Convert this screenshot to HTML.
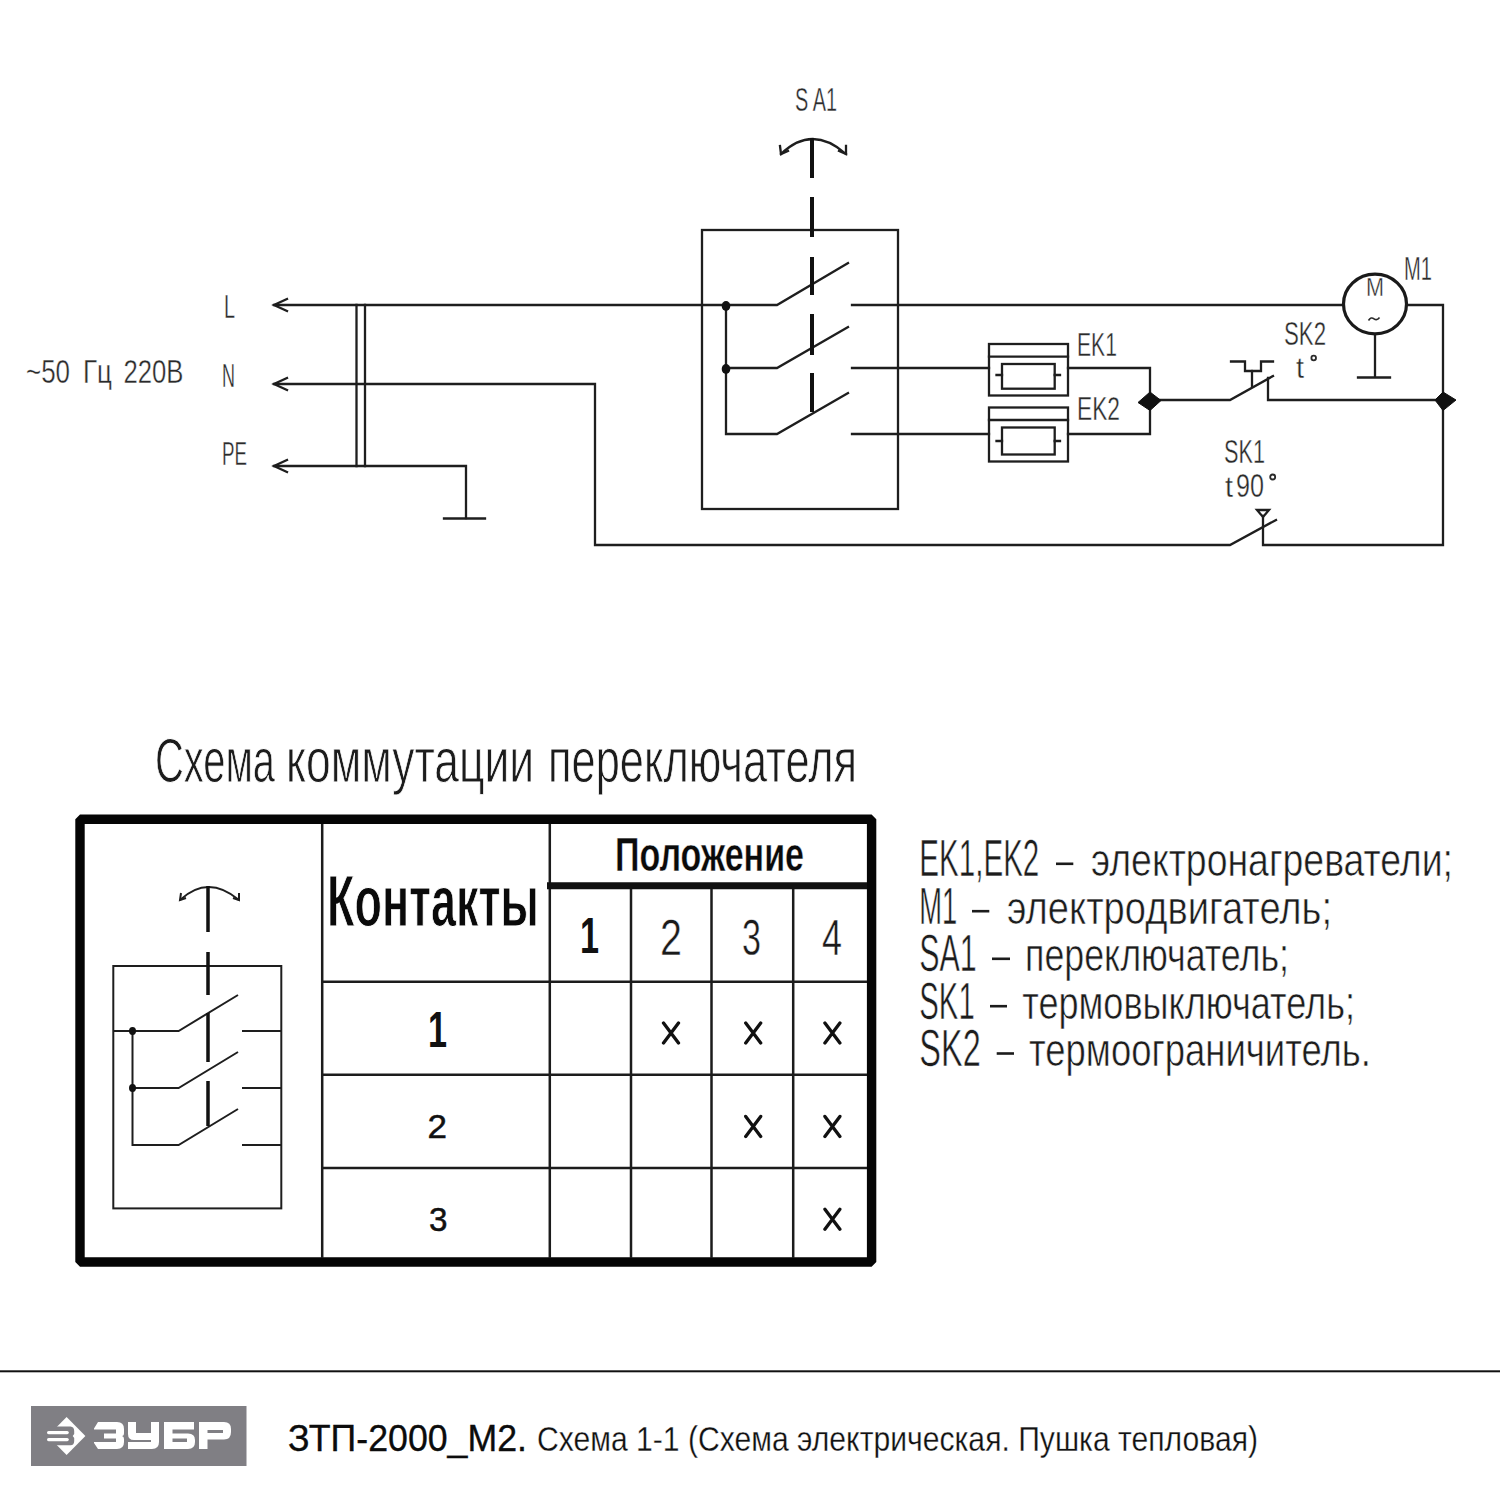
<!DOCTYPE html>
<html><head><meta charset="utf-8">
<style>
html,body{margin:0;padding:0;background:#fff;width:1500px;height:1500px;overflow:hidden}
svg{display:block}
text{font-family:"Liberation Sans",sans-serif}
.cad{fill:#2a2a2a;font-size:33px}
.thin{stroke:#fff;stroke-width:0.6px}
.thin rect{stroke:none}
</style></head><body>
<svg width="1500" height="1500" viewBox="0 0 1500 1500">
<rect width="1500" height="1500" fill="#fff"/>

<!-- ============ TOP SCHEMATIC ============ -->
<g fill="none" stroke="#1e1e1e" stroke-width="2.3" stroke-linecap="square" stroke-linejoin="miter">
  <!-- L line -->
  <path d="M274 305 H777 L848 263"/>
  <path d="M852 305 H1343"/>
  <!-- motor right to right bus -->
  <path d="M1407 305 H1443 V545 H1263 V516"/>
  <!-- N line -->
  <path d="M274 384 H595 V545 H1230 L1276 520"/>
  <!-- SK1 thermal triangle -->
  <path d="M1257 510 H1269 L1263 517 Z"/>
  <!-- PE -->
  <path d="M274 466 H466 V518"/>
  <path d="M444 518.5 H485"/>
  <!-- double verticals -->
  <path d="M356.5 305 V466 M365 305 V466"/>
  <!-- arrows -->
  <path d="M287 299 L274 305 L287 311 M287 378 L274 384 L287 390 M287 460 L274 466 L287 472"/>
  <!-- switch box -->
  <rect x="702" y="230" width="196" height="279"/>
  <path d="M726 305 V434 H777 L848 393"/>
  <path d="M726 368 H777 L848 327"/>
  <path d="M852 368 H989 M852 434 H989"/>
  <!-- EK1 -->
  <rect x="989" y="344" width="79" height="51.5"/>
  <path d="M989 356.7 H1068"/>
  <rect x="1002" y="364" width="52.7" height="24.7"/>
  <path d="M996.5 375 H1002 M1054.7 375 H1060"/>
  <!-- EK2 -->
  <rect x="989" y="407.5" width="79" height="54"/>
  <path d="M989 420 H1068"/>
  <rect x="1002" y="427.5" width="52.7" height="27"/>
  <path d="M996.5 441 H1002 M1054.7 441 H1060"/>
  <!-- EK out -->
  <path d="M1068 368 H1150 V434 H1068"/>
  <!-- SK2 -->
  <path d="M1150 400 H1230 L1273 376"/>
  <path d="M1268 378 V400 H1443"/>
  <path d="M1231 361.5 H1245 V371 H1261 V361.5 H1273"/>
  <path d="M1252 371 V386"/>
  <!-- motor ground -->
  <path d="M1375 336 V377.5 M1358 377.5 H1390"/>
  <!-- SA1 arc -->
  <path d="M781 154 Q812 124 846 154"/>
  <path d="M780 146 L781 154 L788 151 M846 146 L846 154 L839 151"/>
</g>
<!-- motor circle -->
<ellipse cx="1375" cy="304" rx="31.5" ry="29.8" fill="none" stroke="#1a1a1a" stroke-width="3.2"/>
<!-- junction dots -->
<g fill="#111">
  <ellipse cx="726" cy="306" rx="4.3" ry="5"/>
  <ellipse cx="726" cy="369" rx="4.3" ry="5"/>
</g>
<!-- junction diamonds -->
<g fill="#111" stroke="#111" stroke-width="1">
  <path d="M1138 402.5 L1150 392 L1161 400.5 L1150 410.5 Z"/>
  <path d="M1435 400 L1443 392 L1456 400 L1443 410.5 Z"/>
</g>
<!-- dashed stem -->
<path d="M812 138 V178 M812 197 V237 M812 257 V295 M812 314 V355 M812 373 V412" stroke="#111" stroke-width="4" fill="none"/>

<!-- CAD labels -->
<g class="cad thin" style="stroke-width:0.4px">
  <text x="224" y="318" textLength="11" lengthAdjust="spacingAndGlyphs">L</text>
  <text x="222" y="387" textLength="13" lengthAdjust="spacingAndGlyphs">N</text>
  <text x="222" y="465" textLength="25" lengthAdjust="spacingAndGlyphs">PE</text>
  <text x="26" y="383" textLength="44" lengthAdjust="spacingAndGlyphs">~50</text>
  <text x="83" y="383" textLength="29" lengthAdjust="spacingAndGlyphs">Гц</text>
  <text x="123.5" y="383" textLength="60" lengthAdjust="spacingAndGlyphs">220В</text>
  <text x="795" y="111" textLength="42" lengthAdjust="spacingAndGlyphs">S A1</text>
  <text x="1077" y="356" textLength="40" lengthAdjust="spacingAndGlyphs">EK1</text>
  <text x="1077" y="419.5" textLength="43" lengthAdjust="spacingAndGlyphs">EK2</text>
  <text x="1284" y="345" textLength="42" lengthAdjust="spacingAndGlyphs">SK2</text>
  <text x="1296" y="378" textLength="8" lengthAdjust="spacingAndGlyphs" style="font-size:30px">t</text>
  <text x="1366" y="296" textLength="18" lengthAdjust="spacingAndGlyphs" style="font-size:25px">M</text>
  <text x="1404" y="280" textLength="28" lengthAdjust="spacingAndGlyphs">M1</text>
  <text x="1224" y="463" textLength="41" lengthAdjust="spacingAndGlyphs">SK1</text>
  <text x="1225" y="496.5" textLength="8" lengthAdjust="spacingAndGlyphs" style="font-size:30px">t</text>
  <text x="1236" y="496.5" textLength="28" lengthAdjust="spacingAndGlyphs">90</text>
</g>

<g fill="none" stroke="#2a2a2a" stroke-width="1.8">
  <circle cx="1313.7" cy="358" r="2.3"/>
  <circle cx="1272.7" cy="477" r="2.5"/>
  <path d="M1368.5 320.5 Q1371 316.5 1374 318.8 Q1377 321 1379.5 317.5" stroke-width="1.6"/>
</g>
<!-- ============ TITLE ============ -->
<g class="thin" style="font-size:63px;fill:#1c1c1c;stroke-width:0.9px">
<text x="155" y="782" textLength="120" lengthAdjust="spacingAndGlyphs">Схема</text>
<text x="286" y="782" textLength="248" lengthAdjust="spacingAndGlyphs">коммутации</text>
<text x="548" y="782" textLength="309" lengthAdjust="spacingAndGlyphs">переключателя</text>
</g>

<!-- ============ TABLE ============ -->
<g fill="none" stroke="#111">
  <rect x="80" y="819.2" width="791.6" height="442.8" stroke-width="9.4" stroke-linejoin="bevel" stroke="#050505"/>
  <path d="M322.2 824 V1258 M549.8 824 V1258 M631 889 V1258 M711.5 889 V1258 M793.2 889 V1258" stroke-width="2.5" stroke="#1c1c1c"/>
  <path d="M547 885.7 H867" stroke-width="7"/>
  <path d="M322 981.8 H867 M322 1074.8 H867 M322 1168 H867" stroke-width="2.5" stroke="#1c1c1c"/>
</g>
<!-- inner symbol -->
<g fill="none" stroke="#1e1e1e" stroke-width="2">
  <rect x="113.3" y="966" width="168" height="242.4"/>
  <path d="M113.3 1031 H178.6 L238 995"/>
  <path d="M132.5 1031 V1145 H178.6 L238 1109"/>
  <path d="M132.5 1088 H178.6 L238 1052"/>
  <path d="M242 1031 H281 M242 1088 H281 M242 1145 H281"/>
  <path d="M180 900 Q208 874 239 900"/>
  <path d="M181 893 L180 900 L186 898 M239 893 L239 900 L233 898"/>
</g>
<path d="M208 886 V932 M208 952 V995 M208 1013 V1062 M208 1081 V1126" stroke="#111" stroke-width="3.5" fill="none"/>
<g fill="#111">
  <ellipse cx="132.5" cy="1031" rx="3.5" ry="4"/>
  <ellipse cx="132.5" cy="1088" rx="3.5" ry="4"/>
</g>

<!-- table text -->
<text x="327" y="926" textLength="212" lengthAdjust="spacingAndGlyphs" style="font-size:72px;font-weight:bold;fill:#0a0a0a;stroke:#fff;stroke-width:1px">Контакты</text>
<text x="615" y="871" textLength="189" lengthAdjust="spacingAndGlyphs" style="font-size:48px;font-weight:bold;fill:#0a0a0a;stroke:#fff;stroke-width:0.4px">Положение</text>
<text x="580" y="953" textLength="19" lengthAdjust="spacingAndGlyphs" style="font-size:50px;font-weight:bold;fill:#111">1</text>
<g style="font-size:50px;fill:#1a1a1a;stroke:#fff;stroke-width:0.5px">
  <text x="660" y="955" textLength="22" lengthAdjust="spacingAndGlyphs">2</text>
  <text x="742" y="955" textLength="19" lengthAdjust="spacingAndGlyphs">3</text>
  <text x="822" y="955" textLength="20" lengthAdjust="spacingAndGlyphs">4</text>
</g>
<text x="428" y="1046.5" textLength="19" lengthAdjust="spacingAndGlyphs" style="font-size:50px;font-weight:bold;fill:#111">1</text>
<g style="font-size:34px;fill:#111;stroke:#111;stroke-width:0.5">
  <text x="427.5" y="1138" textLength="19.5" lengthAdjust="spacingAndGlyphs">2</text>
  <text x="429" y="1230.5" textLength="18.5" lengthAdjust="spacingAndGlyphs">3</text>
</g>
<path d="M663.5 1023.0 L678.5 1043.0 M678.5 1023.0 L663.5 1043.0 M745.7 1023.0 L760.7 1043.0 M760.7 1023.0 L745.7 1043.0 M824.9 1023.0 L839.9 1043.0 M839.9 1023.0 L824.9 1043.0 M745.7 1116.4 L760.7 1136.4 M760.7 1116.4 L745.7 1136.4 M824.9 1116.4 L839.9 1136.4 M839.9 1116.4 L824.9 1136.4 M824.9 1209.2 L839.9 1229.2 M839.9 1209.2 L824.9 1229.2" stroke="#111" stroke-width="3.3" stroke-linecap="round" fill="none"/>

<!-- ============ LEGEND ============ -->
<g style="fill:#1c1c1c" class="thin">
  <text x="919.3" y="876.3" textLength="120.0" lengthAdjust="spacingAndGlyphs" style="font-size:51px">EK1,EK2</text>
  <rect x="1056" y="862.5" width="17.3" height="2.6"/>
  <text x="1091.0" y="876.3" textLength="362.0" lengthAdjust="spacingAndGlyphs" style="font-size:47px">электронагреватели;</text>
  <text x="919.3" y="923.7" textLength="38.0" lengthAdjust="spacingAndGlyphs" style="font-size:51px">M1</text>
  <rect x="972" y="909.9" width="17.3" height="2.6"/>
  <text x="1007.0" y="923.7" textLength="325.0" lengthAdjust="spacingAndGlyphs" style="font-size:47px">электродвигатель;</text>
  <text x="919.3" y="971.3" textLength="57.4" lengthAdjust="spacingAndGlyphs" style="font-size:51px">SA1</text>
  <rect x="992" y="957.5" width="18.0" height="2.6"/>
  <text x="1025.0" y="971.3" textLength="264.0" lengthAdjust="spacingAndGlyphs" style="font-size:47px">переключатель;</text>
  <text x="919.3" y="1018.7" textLength="55.4" lengthAdjust="spacingAndGlyphs" style="font-size:51px">SK1</text>
  <rect x="990" y="1004.9" width="17.0" height="2.6"/>
  <text x="1022.3" y="1018.7" textLength="332.7" lengthAdjust="spacingAndGlyphs" style="font-size:47px">термовыключатель;</text>
  <text x="919.3" y="1066" textLength="61.4" lengthAdjust="spacingAndGlyphs" style="font-size:51px">SK2</text>
  <rect x="996.7" y="1052.2" width="17.3" height="2.6"/>
  <text x="1029.0" y="1066" textLength="342.0" lengthAdjust="spacingAndGlyphs" style="font-size:47px">термоограничитель.</text>
</g>

<!-- ============ FOOTER ============ -->
<rect x="0" y="1370.3" width="1500" height="2" fill="#111"/>
<rect x="31" y="1406" width="215.5" height="60" fill="#807f84"/>
<g fill="#fff">
  <path d="M66.6 1417 L85.4 1436 L66.6 1455 L47.8 1436 Z"/>
</g>
<path d="M46.8 1426.6 H70.5 Q74.2 1427 74.2 1431 V1434 L72.7 1436 L74.2 1438 V1441 Q74.2 1445.2 70.5 1445.2 H46.8 Z" fill="#807f84"/>
<g fill="#fff">
  <rect x="47" y="1431" width="21.8" height="3.2" rx="1.6"/>
  <rect x="47" y="1438" width="21.8" height="3.2" rx="1.6"/>
</g>
<g fill="#fff">
  <!-- З -->
  <path d="M98 1422 H117 Q124 1422 124 1429 V1433 Q124 1436 122 1436 Q124 1436.5 124 1439 V1442 Q124 1449 117 1449 H98 L94 1443 V1442 H116 V1438.5 H104 V1433.5 H116 V1429.5 H94 V1428.5 Z"/>
  <!-- У -->
  <path d="M128 1422 H136 V1433 H151 V1422 H159 V1442 Q159 1449 152 1449 H128 V1442 H151 V1440 H134 Q128 1440 128 1434 Z"/>
  <!-- Б -->
  <path d="M164 1422 H194 V1429.5 H172.5 V1433.5 H188 Q195 1433.5 195 1440 V1442 Q195 1449 188 1449 H164 Z M172.5 1438.5 V1442 H187 V1438.5 Z" fill-rule="evenodd"/>
  <!-- Р -->
  <path d="M199 1422 H224 Q231 1422 231 1429 V1432 Q231 1439.5 224 1439.5 H207.5 V1449 H199 Z M207.5 1430 V1433 H223 V1430 Z" fill-rule="evenodd"/>
</g>
<text x="288" y="1450.7" textLength="239" lengthAdjust="spacingAndGlyphs" style="font-size:37px;fill:#0c0c0c;stroke:#0c0c0c;stroke-width:0.35px">ЗТП-2000_М2.</text>
<text x="537" y="1450.7" textLength="721" lengthAdjust="spacingAndGlyphs" style="font-size:35px;fill:#111;stroke:#fff;stroke-width:0.3px">Схема 1-1 (Схема электрическая. Пушка тепловая)</text>
</svg>
</body></html>
